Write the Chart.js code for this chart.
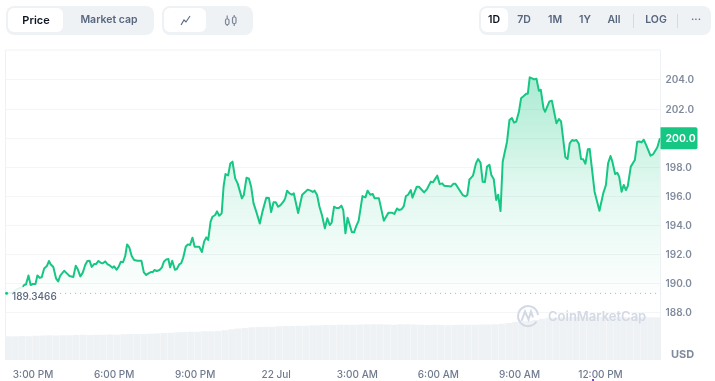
<!DOCTYPE html>
<html>
<head>
<meta charset="utf-8">
<script src="https://cdn.jsdelivr.net/npm/chart.js@4/dist/chart.umd.min.js"></script>
<style>
html,body{margin:0;padding:0;background:#fff;width:715px;height:381px;overflow:hidden;font-family:Inter,sans-serif}
#c{position:absolute;left:0;top:0}
.g{position:absolute;top:6px;height:29px;background:#eff2f5;border-radius:8px}
.w{position:absolute;top:8px;height:24px;background:#fff;border-radius:6px}
.t{position:absolute;top:8px;height:24px;line-height:24px;font-size:10.5px;font-weight:600;color:#58667e;transform:translateX(-50%);white-space:nowrap}
.s{position:absolute;top:14px;width:1px;height:14px;background:#d5dae2}
svg{position:absolute;overflow:visible}
#wm{position:absolute;left:548px;top:306px;font-size:13px;font-weight:600;color:#d3d9e4;line-height:20px;white-space:nowrap}
#mark{position:absolute;left:592px;top:379px;width:2px;height:2px;background:#7b3fe4}
</style>
</head>
<body>
<canvas id="c" width="715" height="381"></canvas>
<div class="g" style="left:6px;width:148px"></div>
<div class="w" style="left:8px;width:55px"></div>
<div class="t" style="left:36px;color:#0d1421;font-size:11px">Price</div>
<div class="t" style="left:109px">Market cap</div>
<div class="g" style="left:162px;width:91px"></div>
<div class="w" style="left:164px;width:42px"></div>
<svg style="left:0;top:0" width="715" height="40"><polyline points="181,25 184,20 186,22 190,16" fill="none" stroke="#58667e" stroke-width="1.1"/><g fill="none" stroke="#7d8799" stroke-width="1.2"><rect x="225.5" y="19" width="3.5" height="5.5" rx="1.2"/><rect x="232.5" y="17" width="3.5" height="6.5" rx="1.2"/><path d="M227.2 15.5V19M227.2 24.5V26M234.2 15V17M234.2 23.5V26"/></g></svg>
<div class="g" style="left:479px;width:232px"></div>
<div class="w" style="left:481px;width:27px"></div>
<div class="t" style="left:494px;color:#0d1421">1D</div>
<div class="t" style="left:524px">7D</div>
<div class="t" style="left:555px">1M</div>
<div class="t" style="left:585px">1Y</div>
<div class="t" style="left:614px">All</div>
<div class="s" style="left:633px"></div>
<div class="t" style="left:656px">LOG</div>
<div class="s" style="left:677px"></div>
<div class="t" style="left:696px">···</div>
<svg style="left:0;top:0" width="715" height="381"><g fill="none" stroke="#d3d9e4" stroke-width="2"><path d="M536.5 321.5A10 10 0 1 1 538 315"/><path d="M521.5 321L525 311.5L528.5 319.5L531 311.5L533 317.5"/></g></svg>
<div id="wm">CoinMarketCap</div>
<div id="mark"></div>
<script>
const priceHours = [14.02,14.21,14.40,14.62,14.67,14.74,14.83,14.91,14.99,15.09,15.16,15.24,15.32,15.41,15.51,15.59,15.65,15.75,15.85,15.93,16.00,16.15,16.25,16.35,16.49,16.58,16.65,16.75,16.84,16.93,17.01,17.09,17.17,17.26,17.33,17.42,17.52,17.58,17.67,17.75,17.85,17.94,18.00,18.09,18.17,18.25,18.33,18.41,18.48,18.56,18.65,18.74,18.86,19.01,19.10,19.19,19.27,19.36,19.43,19.49,19.58,19.68,19.77,19.84,19.93,20.01,20.07,20.15,20.25,20.32,20.42,20.48,20.56,20.65,20.73,20.81,20.90,20.98,21.15,21.25,21.33,21.41,21.48,21.57,21.64,21.74,21.81,21.89,21.98,22.05,22.12,22.22,22.30,22.38,22.48,22.57,22.73,22.80,22.90,22.99,23.07,23.16,23.26,23.39,23.49,23.63,23.73,23.81,23.90,23.98,24.07,24.16,24.27,24.33,24.40,24.49,24.58,24.65,24.81,24.96,25.07,25.16,25.27,25.35,25.42,25.51,25.60,25.69,25.80,25.89,25.98,26.05,26.14,26.22,26.32,26.41,26.48,26.56,26.64,26.80,26.88,26.96,27.05,27.19,27.30,27.38,27.48,27.57,27.64,27.80,27.98,28.15,28.27,28.37,28.47,28.54,28.64,28.72,28.80,28.88,28.98,29.04,29.20,29.28,29.47,29.58,29.72,29.80,29.96,30.05,30.14,30.21,30.47,30.56,30.63,30.90,31.00,31.07,31.15,31.19,31.28,31.39,31.47,31.56,31.64,31.72,31.80,31.89,31.96,32.05,32.14,32.21,32.30,32.38,32.54,32.63,32.72,32.80,32.88,32.98,33.06,33.16,33.25,33.31,33.38,33.47,33.54,33.63,33.72,33.79,33.89,33.95,34.11,34.20,34.27,34.37,34.46,34.54,34.70,34.78,34.86,34.95,35.02,35.11,35.20,35.28,35.36,35.44,35.53,35.60,35.78,35.96,36.10,36.20,36.28,36.37,36.44,36.54,36.62,36.69,36.78,36.86,36.94,37.01,37.12,37.27,37.36,37.44,37.52,37.60,37.69,37.85,37.94,38.10,38.20];
const prices = [189.35,189.39,189.62,189.80,189.92,189.97,190.58,189.92,189.99,189.99,190.58,190.42,190.45,191.06,191.22,191.57,191.34,191.16,190.38,190.17,190.54,190.90,190.72,190.54,190.47,191.25,191.02,190.51,190.77,191.29,191.57,191.59,191.16,191.36,191.36,191.57,191.43,191.41,191.54,191.36,191.25,191.11,191.20,190.97,191.18,191.52,191.48,191.91,192.71,192.51,191.91,191.64,191.59,191.59,190.79,190.61,190.72,190.81,190.81,190.95,190.88,190.95,191.13,191.52,191.68,191.70,191.13,191.59,190.97,191.02,191.36,191.41,191.82,192.55,192.71,192.67,193.17,192.55,192.55,192.19,192.90,193.19,193.01,194.27,194.61,194.73,194.98,194.68,194.84,196.67,197.54,197.45,198.27,198.39,197.24,196.90,195.87,196.10,197.29,197.22,196.67,195.53,194.96,194.15,194.96,195.92,195.89,194.93,195.60,195.60,195.30,195.41,195.66,195.87,196.40,196.21,196.12,196.21,194.86,196.12,196.31,196.47,196.40,196.31,196.40,196.10,195.30,194.73,193.81,194.50,194.04,194.20,195.30,195.21,195.21,195.37,195.07,193.47,194.54,193.54,193.54,193.97,194.34,196.03,195.94,196.40,196.12,196.17,195.87,195.87,194.34,194.89,194.89,194.80,195.18,195.07,195.12,195.34,196.03,196.12,196.44,195.92,196.67,196.67,196.28,196.51,197.02,196.97,197.43,196.85,196.90,196.74,196.69,196.88,196.88,196.10,196.01,196.10,197.18,197.24,197.43,198.27,198.57,198.32,197.01,196.99,198.05,198.18,197.47,197.18,195.76,196.12,195.00,198.39,199.76,201.25,201.39,201.07,201.14,201.82,202.74,202.90,203.06,203.06,204.18,204.11,204.04,204.09,203.26,203.33,202.05,201.82,202.53,202.58,201.94,201.02,201.32,201.16,198.69,198.57,199.65,199.88,199.83,199.88,199.60,198.57,198.55,198.25,199.24,199.26,196.33,195.02,196.21,196.79,198.27,198.78,198.39,197.54,197.63,197.36,196.33,196.79,196.44,196.72,198.05,198.50,199.76,199.78,199.71,199.90,199.53,198.80,198.89,199.37,200.0];
const volumeStartHour = 14.1;
const volumeStepHours = 0.25;
const volumes = [23.5,23.5,23.6,23.4,23.8,24.2,24.3,24.2,24.5,24.4,24.6,24.8,24.7,25,25,25.2,24.9,25.4,25.6,25.6,25.7,26,26.2,26.6,27,27.3,27.7,28,28,28.3,28.3,28.6,29.3,30.4,31.2,31.6,32.4,32.6,32.9,33,33.3,33.6,33.6,34,33.9,34.4,34.5,34.6,34.7,34.8,35,35,35.2,35.4,35.4,35.5,35.2,35,35.3,35.4,35.1,35,34.7,34.9,34.6,34.4,34.7,34.8,34.9,35,35.1,35.1,35.3,35.8,36.6,37.6,38.4,38.8,39.6,41,41.8,42.2,42.4,42.5,42.6,42.4,42.6,42.8,42.6,42.5,42.7,42.6,42.4,42.5,42.6,42.5,42.5,42.6];
const baselinePrice = 189.3466;
const baselineHours = [16.0,38.22];
const baselineValues = [baselinePrice,baselinePrice];
const xTickHours = [15,18,21,24,27,30,33,36];
const xTickLabels = ['3:00 PM','6:00 PM','9:00 PM','22 Jul','3:00 AM','6:00 AM','9:00 AM','12:00 PM'];
const yTicks = [188,190,192,194,196,198,200,202,204];
const lastLabel = '200.0';
const unitLabel = 'USD';

const green = '#16c784';
const frame = {
  id:'frame',
  beforeDatasetsDraw(chart){
    const {ctx,chartArea:a} = chart;
    ctx.save();ctx.strokeStyle='#eff2f5';ctx.lineWidth=1;
    ctx.beginPath();
    ctx.moveTo(a.left,a.bottom);ctx.lineTo(a.left,a.top);ctx.lineTo(a.right,a.top);ctx.lineTo(a.right,a.bottom);
    ctx.stroke();ctx.restore();
  },
  afterDraw(chart){
    const {ctx,chartArea:a,scales} = chart;
    const y = scales.y, x = scales.x;
    ctx.save();
    ctx.textBaseline='middle';ctx.textAlign='left';
    ctx.fillStyle='#808a9d';ctx.font='600 10px Inter';
    yTicks.forEach(v=>{ctx.fillText(v.toFixed(1),a.right+5,y.getPixelForValue(v)+0.5);});
    ctx.fillStyle=green;
    const py = y.getPixelForValue(prices[prices.length-1]);
    ctx.beginPath();ctx.roundRect(a.right,py-11,37,22,[0,2,2,0]);ctx.fill();
    ctx.fillStyle='#fff';ctx.font='600 10.5px Inter';
    ctx.fillText(lastLabel,a.right+5,py+0.5);
    ctx.fillStyle='#58667e';ctx.font='500 10px Inter';
    ctx.fillText(String(baselinePrice),12,y.getPixelForValue(baselinePrice)+3.5);
    ctx.fillStyle='#808a9d';ctx.font='700 11px Inter';
    ctx.fillText(unitLabel,671,355);
    ctx.fillStyle=green;ctx.beginPath();
    ctx.arc(x.getPixelForValue(priceHours[0]),y.getPixelForValue(prices[0]),1.5,0,Math.PI*2);ctx.fill();
    ctx.restore();
  }
};
new Chart(document.getElementById('c'),{
  data:{datasets:[
    {type:'line',order:1,data:priceHours.map((h,i)=>({x:h,y:prices[i]})),yAxisID:'y',
     borderColor:green,borderWidth:2,pointRadius:0,tension:0,borderJoinStyle:'round',
     segment:{borderColor:c=>c.p0DataIndex<3?'#e3f7ef':green},
     fill:{value:baselinePrice},
     backgroundColor(c){
       const ch=c.chart; if(!ch.chartArea) return 'transparent';
       const s=ch.scales.y;
       const g=ch.ctx.createLinearGradient(0,s.getPixelForValue(204.2),0,s.getPixelForValue(baselinePrice));
       g.addColorStop(0,'rgba(22,199,132,0.36)');
       g.addColorStop(0.5,'rgba(22,199,132,0.13)');
       g.addColorStop(1,'rgba(22,199,132,0.01)');
       return g;
     }},
    {type:'line',order:2,data:baselineHours.map((h,i)=>({x:h,y:baselineValues[i]})),yAxisID:'y',
     borderColor:'#a6b0c3',borderWidth:1,borderDash:[1,4],pointRadius:0,fill:false},
    {type:'bar',order:3,data:volumes.map((v,i)=>({x:volumeStartHour+i*volumeStepHours,y:v})),yAxisID:'v',
     backgroundColor:'#eff2f5',barThickness:6,borderWidth:0}
  ]},
  options:{
    responsive:false,animation:false,devicePixelRatio:1,
    layout:{padding:{left:5.5,top:50,right:0,bottom:0}},
    plugins:{legend:{display:false},tooltip:{enabled:false}},
    scales:{
      x:{type:'linear',min:13.98,max:38.22,offset:false,
         afterBuildTicks(s){s.ticks=xTickHours.map(v=>({value:v}));},
         afterFit(s){s.height=21;},
         grid:{display:false,drawTicks:false},border:{display:false},
         ticks:{autoSkip:false,maxRotation:0,padding:9,color:'#6f7a8e',font:{family:'Inter',size:10,weight:'500'},
           callback:v=>xTickLabels[xTickHours.indexOf(v)]}},
      y:{type:'linear',position:'right',min:184.77,max:206.06,
         afterBuildTicks(s){s.ticks=yTicks.map(v=>({value:v}));},
         afterFit(s){s.width=54.5;},
         grid:{color:'#f3f5f7',drawTicks:false},border:{display:false},
         ticks:{display:false}},
      v:{type:'linear',display:false,min:0,max:310}
    }
  },
  plugins:[frame]
});
</script>
</body>
</html>
